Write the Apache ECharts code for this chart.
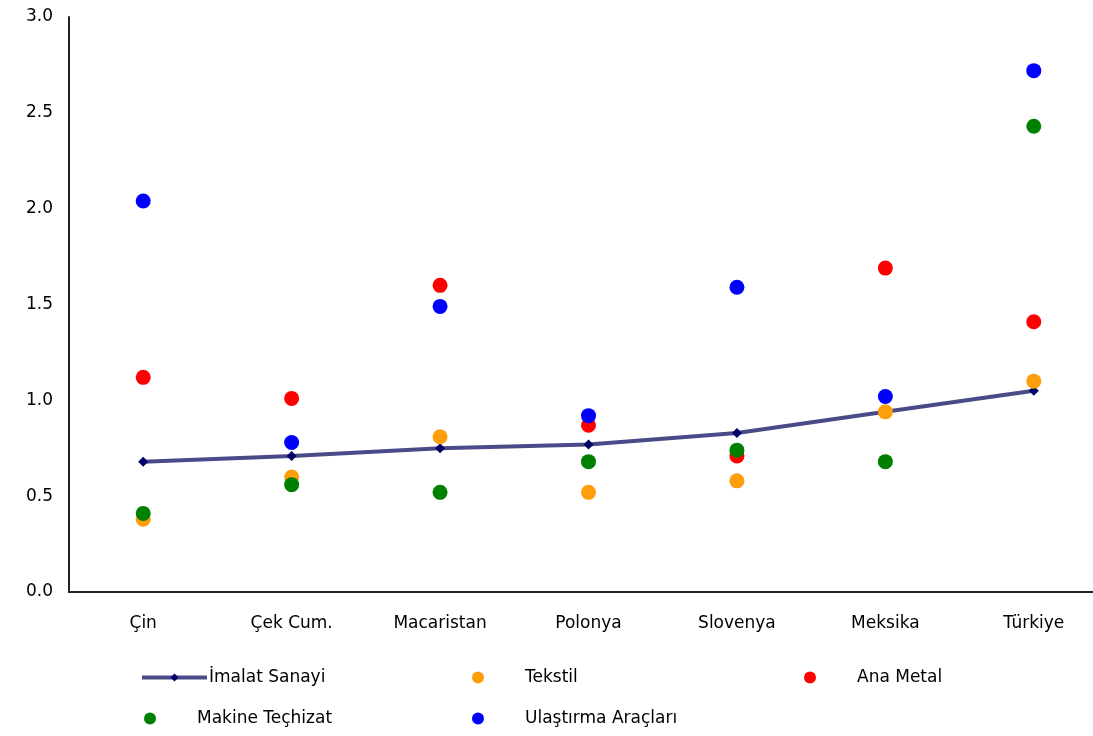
<!DOCTYPE html>
<html>
<head>
<meta charset="utf-8">
<script src="https://cdn.jsdelivr.net/npm/echarts@6/dist/echarts.min.js"></script>
<style>
  html, body { margin: 0; padding: 0; background: #fff; }
  #chart { width: 1093px; height: 736px; }
</style>
</head>
<body>
<div id="chart"></div>
<script>
  var categories = ['Çin', 'Çek Cum.', 'Macaristan', 'Polonya', 'Slovenya', 'Meksika', 'Türkiye']
  var imalat = [0.68, 0.71, 0.75, 0.77, 0.83, 0.94, 1.05]
  var tekstil = [0.38, 0.60, 0.81, 0.52, 0.58, 0.94, 1.10]
  var anaMetal = [1.12, 1.01, 1.60, 0.87, 0.71, 1.69, 1.41]
  var makine = [0.41, 0.56, 0.52, 0.68, 0.74, 0.68, 2.43]
  var ulastirma = [2.04, 0.78, 1.49, 0.92, 1.59, 1.02, 2.72]
  var yTicks = [0, 0.5, 1.0, 1.5, 2.0, 2.5, 3.0]

  var font = 'DejaVu Sans'

  function dotSeries (name, color, data) {
    return {
      name: name,
      type: 'scatter',
      data: data,
      symbol: 'circle',
      symbolSize: 15,
      itemStyle: { color: color, opacity: 1 },
      z: 3
    }
  }

  // one legend per slot, the original puts them in a 3 column grid
  function dotLegend (name, left, top) {
    return {
      data: [name],
      left: left,
      top: top,
      icon: 'circle',
      itemWidth: 12,
      itemHeight: 12,
      selectedMode: false,
      textStyle: { fontFamily: font, fontSize: 17, color: '#000', padding: [0, 0, 0, 36] }
    }
  }

  var chart = echarts.init(document.getElementById('chart'))
  chart.setOption({
    animation: false,
    backgroundColor: '#fff',
    // the x axis runs off the right edge in the original
    grid: { left: 69, top: 17, bottom: 144, right: -15, outerBoundsMode: 'none' },
    xAxis: {
      type: 'category',
      data: categories,
      axisLine: { lineStyle: { color: '#222', width: 2 } },
      axisTick: { show: false },
      axisLabel: { fontFamily: font, fontSize: 17, color: '#000', margin: 23 }
    },
    yAxis: {
      type: 'value',
      min: yTicks[0],
      max: yTicks[yTicks.length - 1],
      interval: 0.5,
      splitLine: { show: false },
      axisLine: { show: true, lineStyle: { color: '#222', width: 2 } },
      axisTick: { show: false },
      axisLabel: {
        fontFamily: font,
        fontSize: 17,
        color: '#000',
        margin: 16,
        formatter: function (v) { return v.toFixed(1) }
      }
    },
    legend: [
      {
        data: ['İmalat Sanayi'],
        left: 135,
        top: 664,
        itemWidth: 65,
        itemHeight: 10,
        itemGap: 0,
        selectedMode: false,
        lineStyle: { width: 4 },
        textStyle: { fontFamily: font, fontSize: 17, color: '#000', padding: [0, 0, 0, -3] }
      },
      dotLegend('Tekstil', 467, 664),
      dotLegend('Ana Metal', 799, 664),
      dotLegend('Makine Teçhizat', 139, 705),
      dotLegend('Ulaştırma Araçları', 467, 705)
    ],
    series: [
      {
        name: 'İmalat Sanayi',
        type: 'line',
        data: imalat,
        symbol: 'diamond',
        symbolSize: 10,
        itemStyle: { color: '#000066' },
        lineStyle: { color: '#4a4a88', width: 4 },
        z: 2
      },
      dotSeries('Tekstil', '#ff9e0c', tekstil),
      dotSeries('Ana Metal', '#ff0000', anaMetal),
      dotSeries('Makine Teçhizat', '#008000', makine),
      dotSeries('Ulaştırma Araçları', '#0000ff', ulastirma)
    ]
  })
</script>
</body>
</html>
